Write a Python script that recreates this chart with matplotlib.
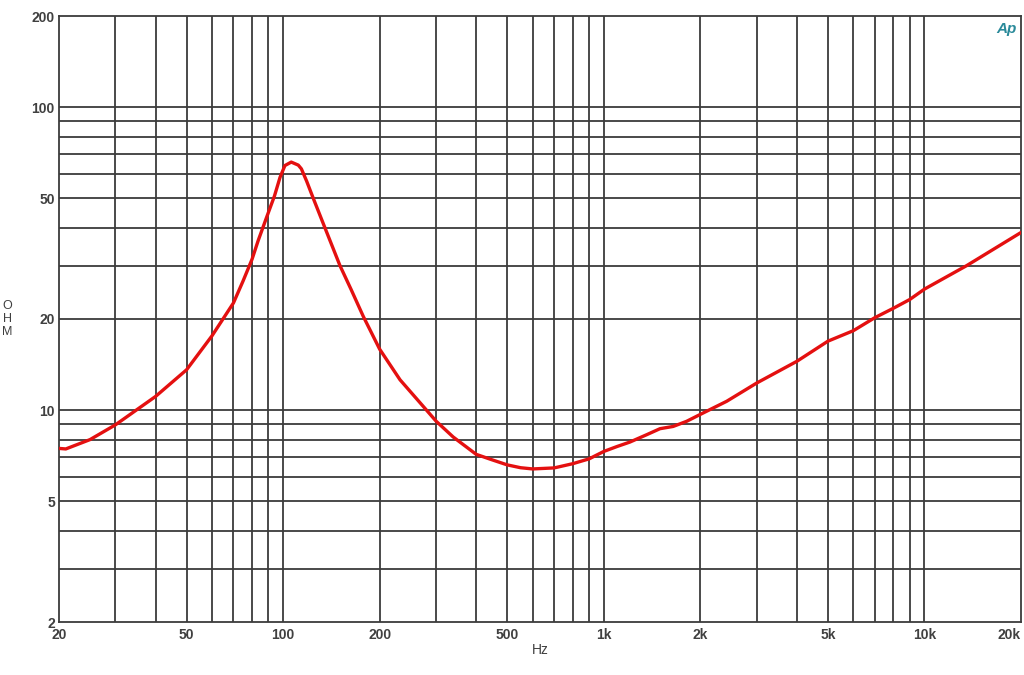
import matplotlib
matplotlib.use("Agg")
import matplotlib.pyplot as plt
from matplotlib.ticker import FixedLocator, NullLocator

# Impedance curve (Hz, Ohm)
freq_hz = [20, 21, 25, 30, 40, 50, 60, 70, 75, 80, 83.6, 88.8, 94, 97.8,
           101.3, 106, 111.5, 114, 118.4, 124.2, 135, 150.4, 163, 177.8,
           200, 231.5, 260.9, 300, 339, 400, 450, 500, 550, 600, 700,
           800, 900, 1000, 1100, 1206, 1360, 1497, 1646, 1812, 2040, 2416,
           3000, 4000, 5000, 6000, 7000, 8000, 9000, 10000, 13536, 20000]
impedance_ohm = [7.48, 7.45, 8.0, 8.95, 11.1, 13.6, 17.6, 22.6, 26.7, 31.5,
                 36.3, 43.3, 51.0, 58.7, 64.2, 65.9, 64.4, 62.6, 57.0, 50.0,
                 40.0, 30.0, 25.0, 20.4, 15.9, 12.6, 10.9, 9.2, 8.16, 7.15,
                 6.85, 6.6, 6.46, 6.4, 6.45, 6.66, 6.91, 7.31, 7.59, 7.85,
                 8.30, 8.69, 8.84, 9.19, 9.79, 10.7, 12.3, 14.5, 16.9, 18.3,
                 20.2, 21.7, 23.2, 25.1, 30.0, 38.6]

x_ticks = [20, 50, 100, 200, 500, 1000, 2000, 5000, 10000, 20000]
x_tick_labels = ["20", "50", "100", "200", "500", "1k", "2k", "5k", "10k", "20k"]
y_ticks = [2, 5, 10, 20, 50, 100, 200]
y_tick_labels = ["2", "5", "10", "20", "50", "100", "200"]

x_grid = [m * 10 ** e for e in range(1, 5) for m in range(1, 10)]
y_grid = [m * 10 ** e for e in range(0, 3) for m in range(1, 10)]

plt.rcParams['font.family'] = ['Liberation Sans', 'DejaVu Sans']

fig = plt.figure(figsize=(10.24, 6.75), dpi=100)
ax = fig.add_axes([59 / 1024, 1 - 622 / 675, (1021 - 59) / 1024, (622 - 16) / 675])
ax.set_xscale('log')
ax.set_yscale('log')
ax.set_xlim(20, 20000)
ax.set_ylim(2, 200)

grid_color = '#3c3c3c'
for gx in x_grid:
    if 20 < gx < 20000:
        ax.axvline(gx, color=grid_color, lw=1.3, zorder=1)
for gy in y_grid:
    if 2 < gy < 200:
        ax.axhline(gy, color=grid_color, lw=1.3, zorder=1)

ax.plot(freq_hz, impedance_ohm, color='#e41010', lw=2.4, zorder=3,
        solid_joinstyle='round', solid_capstyle='round')

ax.xaxis.set_major_locator(FixedLocator(x_ticks))
ax.xaxis.set_minor_locator(NullLocator())
ax.yaxis.set_major_locator(FixedLocator(y_ticks))
ax.yaxis.set_minor_locator(NullLocator())
ax.set_xticklabels(x_tick_labels)
ax.set_yticklabels(y_tick_labels)
ax.tick_params(axis='both', length=0, labelsize=10, labelcolor='#404040')
ax.tick_params(axis='x', pad=4)
ax.tick_params(axis='y', pad=3)
for lab in ax.get_xticklabels() + ax.get_yticklabels():
    lab.set_fontweight('bold')
ax.get_xticklabels()[-1].set_horizontalalignment('right')

for s in ax.spines.values():
    s.set_color(grid_color)
    s.set_linewidth(1.3)

fig.text(540 / 1024, 1 - 650 / 675, "Hz", ha='center', va='center',
         fontsize=10, color='#404040')
fig.text(7 / 1024, 1 - 319 / 675, "O\nH\nM", ha='center', va='center',
         fontsize=9, color='#404040', linespacing=1.15)
fig.text(1006 / 1024, 1 - 29 / 675, "Ap", ha='center', va='center',
         fontsize=11, color='#2a8a9a', style='italic', fontweight='bold')

fig.savefig("out.png", dpi=100)
